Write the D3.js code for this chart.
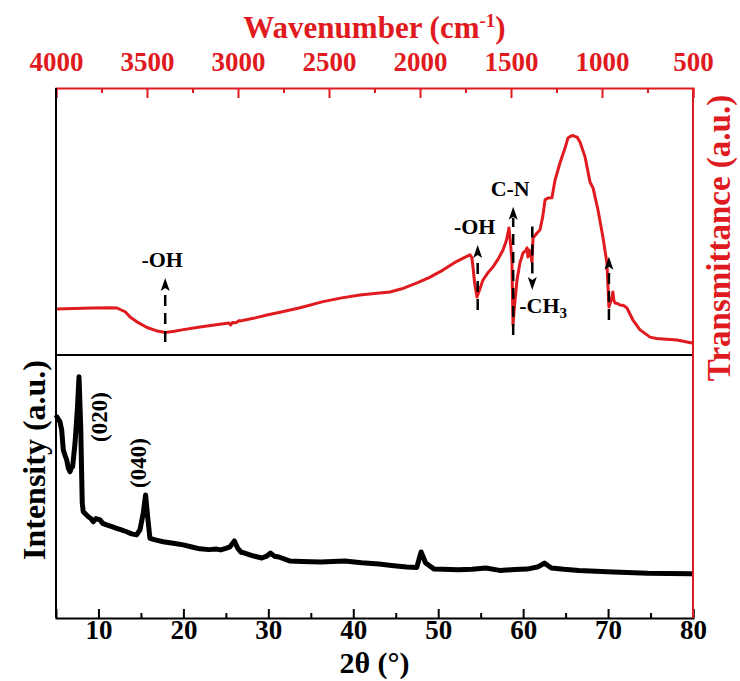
<!DOCTYPE html>
<html>
<head>
<meta charset="utf-8">
<script src="https://cdn.jsdelivr.net/npm/d3@7"></script>
<style>
  body { margin: 0; background: #ffffff; }
  text { font-family: "Liberation Serif", "Times New Roman", serif; font-weight: bold; }
</style>
</head>
<body>
<svg id="chart" width="740" height="681"></svg>
<script>
// FTIR spectrum (top panel): wavenumber in cm-1 and transmittance (a.u.)
const ftirWavenumber = [4000, 3900, 3800, 3700, 3665, 3620, 3593, 3550, 3500, 3450, 3400, 3350, 3300, 3209, 3100, 3050, 3040, 3030, 3010, 2995, 2989, 2900, 2841, 2750, 2659, 2533, 2430, 2330, 2250, 2165, 2100, 2016, 1950, 1874, 1800, 1760, 1725, 1715, 1709, 1700, 1687, 1675, 1654, 1630, 1599, 1570, 1544, 1525, 1511, 1503, 1495, 1489, 1480, 1467, 1451, 1434, 1420, 1412, 1407, 1400, 1392, 1385, 1379, 1357, 1341, 1325, 1313, 1297, 1275, 1258, 1231, 1203, 1187, 1170, 1159, 1150, 1137, 1121, 1093, 1066, 1049, 1022, 995, 973, 967, 962, 955, 945, 940, 935, 929, 915, 901, 880, 863, 830, 791, 736, 700, 665, 588, 505];
const ftirTransmittance = [17.2, 17.4, 17.6, 17.7, 17.6, 16.2, 14.2, 12.2, 10.3, 9.1, 8.4, 8.9, 9.5, 10.5, 11.5, 12.0, 11.3, 12.2, 12.1, 12.9, 12.7, 14.0, 15.0, 16.3, 17.7, 20.0, 21.4, 22.5, 23.0, 23.6, 24.8, 27.0, 29.0, 31.8, 35.0, 36.4, 37.5, 36.5, 33.0, 27.0, 21.7, 24.0, 28.1, 30.5, 33.0, 36.0, 39.3, 43.0, 47.6, 42.0, 35.6, 11.2, 19.0, 28.1, 34.5, 38.2, 39.0, 40.1, 36.7, 39.3, 38.0, 34.8, 43.8, 45.7, 46.8, 52.0, 58.1, 58.8, 58.9, 65.5, 71.9, 77.5, 81.3, 82.0, 82.2, 81.9, 81.6, 79.8, 74.2, 64.8, 62.5, 54.3, 44.2, 34.5, 25.5, 18.0, 19.5, 21.7, 23.6, 20.5, 19.5, 19.3, 18.7, 18.5, 17.6, 13.1, 9.4, 6.7, 6.2, 6.0, 5.6, 4.5];

// XRD pattern (bottom panel): 2-theta in degrees and intensity (a.u.)
const xrdAngle = [5.0, 5.08, 5.3, 5.47, 5.67, 5.86, 6.1, 6.26, 6.45, 6.65, 6.8, 6.96, 7.24, 7.51, 7.71, 7.91, 8.09, 8.21, 8.5, 8.8, 9.1, 9.39, 9.7, 10.18, 10.5, 10.96, 11.5, 12.14, 12.7, 13.32, 13.9, 14.49, 14.88, 15.27, 15.55, 15.79, 16.06, 16.8, 17.62, 18.8, 19.98, 21.0, 21.94, 23.0, 23.9, 24.38, 25.0, 25.47, 26.0, 26.4, 26.8, 27.21, 28.0, 29.24, 29.8, 30.26, 30.7, 31.24, 32.49, 34.0, 36.14, 38.98, 41.0, 43.04, 44.5, 46.28, 47.47, 47.99, 48.52, 49.53, 52.36, 54.0, 55.61, 57.24, 59.0, 60.48, 61.8, 62.5, 63.32, 64.8, 66.56, 70.62, 74.68, 79.75, 80];
const xrdIntensity = [76.0, 76.5, 75.5, 74.6, 71.5, 63.9, 61.5, 60.1, 57.0, 55.6, 57.0, 57.5, 66.5, 79.1, 91.7, 72.7, 43.7, 40.4, 39.5, 38.5, 37.8, 36.6, 37.8, 37.3, 36.0, 35.4, 34.8, 34.1, 33.5, 32.8, 32.0, 31.6, 33.5, 39.8, 46.8, 38.5, 30.3, 29.6, 29.0, 28.4, 27.8, 27.0, 26.3, 26.0, 26.2, 25.9, 26.5, 27.0, 29.3, 26.5, 25.0, 24.7, 23.8, 22.8, 23.5, 24.7, 23.5, 23.2, 21.7, 21.5, 21.3, 21.7, 21.0, 20.5, 20.0, 19.4, 19.2, 25.1, 20.9, 18.6, 18.3, 18.5, 19.0, 18.1, 18.4, 18.6, 19.5, 20.9, 19.0, 18.5, 18.1, 17.5, 17.0, 16.8, 16.7];

// Axis ticks
const wavenumberTicks = [4000, 3500, 3000, 2500, 2000, 1500, 1000, 500];
const wavenumberMinorTicks = [3750, 3250, 2750, 2250, 1750, 1250, 750];
const angleTicks = [10, 20, 30, 40, 50, 60, 70, 80];
const angleMinorTicks = [15, 25, 35, 45, 55, 65, 75];

// Band assignments marked with dashed arrows (position in cm-1, shaft span in transmittance units)
const bandWavenumber = [3400, 1683, 1488, 1383, 962];
const bandFrom = [4.9, 16.9, 7.5, 48.1, 13.1];
const bandTo = [28.8, 41.2, 55.5, 24.3, 36.8];
const bandLabel = ["-OH", "-OH", "C-N", "-CH", ""];

// XRD reflections
const peakAngle = [7.71, 15.55];
const peakLabel = ["(020)", "(040)"];

const RED = "#e01b1f";
const svg = d3.select("#chart");
const L = 56, R = 693, T = 88, MID = 355, B = 618;

const xW = d3.scaleLinear().domain([4000, 500]).range([L, R]);
const yT = d3.scaleLinear().domain([0, 100]).range([MID, T]);
const x2 = d3.scaleLinear().domain([5, 80]).range([L, R]);
const yI = d3.scaleLinear().domain([0, 100]).range([B, MID]);

// curves
const ftir = ftirWavenumber.map((w, i) => [w, ftirTransmittance[i]]);
const xrd = xrdAngle.map((a, i) => [a, xrdIntensity[i]]);

svg.append("path").datum(xrd)
  .attr("fill", "none").attr("stroke", "#000").attr("stroke-width", 5)
  .attr("stroke-linejoin", "round")
  .attr("d", d3.line().x(d => x2(d[0])).y(d => yI(d[1])));

svg.append("path").datum(ftir)
  .attr("fill", "none").attr("stroke", RED).attr("stroke-width", 3)
  .attr("stroke-linejoin", "round")
  .attr("d", d3.line().x(d => xW(d[0])).y(d => yT(d[1])));

// top axis (wavenumber)
const topAxis = svg.append("g").attr("transform", `translate(0,${T})`)
  .call(d3.axisTop(xW).tickValues(wavenumberTicks).tickSize(-10).tickPadding(17).tickFormat(d3.format("d")));
topAxis.attr("font-family", null);
topAxis.select(".domain").attr("stroke", RED).attr("stroke-width", 2);
topAxis.selectAll(".tick line").attr("stroke", RED).attr("stroke-width", 2);
topAxis.selectAll(".tick text").attr("fill", RED).attr("font-size", 27);
svg.append("g").attr("transform", `translate(0,${T})`)
  .call(d3.axisTop(xW).tickValues(wavenumberMinorTicks).tickSize(-5).tickFormat(""))
  .call(g => g.select(".domain").remove())
  .selectAll(".tick line").attr("stroke", RED).attr("stroke-width", 2);

// bottom axis (2 theta)
const botAxis = svg.append("g").attr("transform", `translate(0,${B})`)
  .call(d3.axisBottom(x2).tickValues(angleTicks).tickSize(-9).tickPadding(2).tickFormat(d3.format("d")));
botAxis.attr("font-family", null);
botAxis.select(".domain").attr("stroke", "#000").attr("stroke-width", 2);
botAxis.selectAll(".tick line").attr("stroke", "#000").attr("stroke-width", 2);
botAxis.selectAll(".tick text").attr("fill", "#000").attr("font-size", 27);
svg.append("g").attr("transform", `translate(0,${B})`)
  .call(d3.axisBottom(x2).tickValues(angleMinorTicks).tickSize(-5).tickFormat(""))
  .call(g => g.select(".domain").remove())
  .selectAll(".tick line").attr("stroke", "#000").attr("stroke-width", 2);

// frame: left edge, panel divider, right edge
svg.append("line").attr("x1", L).attr("x2", L).attr("y1", T).attr("y2", B)
  .attr("stroke", "#000").attr("stroke-width", 2);
svg.append("line").attr("x1", L).attr("x2", R).attr("y1", MID).attr("y2", MID)
  .attr("stroke", "#000").attr("stroke-width", 2);
svg.append("line").attr("x1", R).attr("x2", R).attr("y1", T).attr("y2", B)
  .attr("stroke", RED).attr("stroke-width", 2);

// axis titles
const title = svg.append("text").attr("x", (L + R) / 2).attr("y", 38)
  .attr("text-anchor", "middle").attr("fill", RED).attr("font-size", 31);
title.append("tspan").text("Wavenumber (cm");
title.append("tspan").attr("font-size", 19).attr("dy", -11).text("-1");
title.append("tspan").attr("dy", 11).text(")");

svg.append("text").attr("x", (L + R) / 2).attr("y", 673)
  .attr("text-anchor", "middle").attr("fill", "#000").attr("font-size", 30)
  .text("2θ (°)");

svg.append("text").attr("transform", `translate(45,460) rotate(-90)`)
  .attr("text-anchor", "middle").attr("fill", "#000").attr("font-size", 32)
  .text("Intensity (a.u.)");

svg.append("text").attr("transform", `translate(730,238) rotate(-90)`)
  .attr("text-anchor", "middle").attr("fill", RED).attr("font-size", 33)
  .text("Transmittance (a.u.)");

// band arrows
const arrowHead = "M0,0 L-4.5,13 L0,10 L4.5,13 Z";
bandWavenumber.forEach((w, i) => {
  const x = xW(w);
  const y0 = yT(bandFrom[i]);
  const y1 = yT(bandTo[i]);
  const up = y1 < y0;
  const base = up ? y1 + 11 : y1 - 11;
  svg.append("line").attr("x1", x).attr("x2", x).attr("y1", y0).attr("y2", base)
    .attr("stroke", "#000").attr("stroke-width", 2.5).attr("stroke-dasharray", "11,7");
  svg.append("path").attr("d", arrowHead)
    .attr("transform", `translate(${x},${y1}) rotate(${up ? 0 : 180})`)
    .attr("fill", "#000");
  if (!bandLabel[i]) return;
  if (up) {
    svg.append("text").attr("x", x - 3).attr("y", y1 - 11)
      .attr("text-anchor", "middle").attr("font-size", 22).attr("fill", "#000")
      .text(bandLabel[i]);
  } else {
    const t = svg.append("text").attr("x", x - 13).attr("y", y1 + 23)
      .attr("font-size", 22).attr("fill", "#000");
    t.append("tspan").text(bandLabel[i]);
    t.append("tspan").attr("font-size", 15).attr("dy", 5).text("3");
  }
});

// reflection labels
peakAngle.forEach((a, i) => {
  const x = x2(a) + (i === 0 ? 28 : 0);
  const y = i === 0 ? 417 : 463;
  svg.append("text").attr("transform", `translate(${x},${y}) rotate(-90)`)
    .attr("text-anchor", "middle").attr("font-size", 23).attr("fill", "#000")
    .text(peakLabel[i]);
});
</script>
</body>
</html>
